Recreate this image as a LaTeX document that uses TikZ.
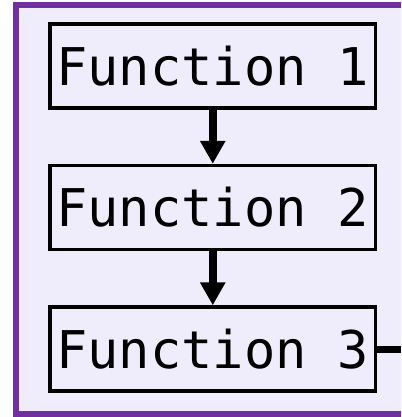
\documentclass[tikz,border=0pt]{standalone}
\usepackage{fontspec}
\setmonofont{DejaVu Sans Mono}
\usetikzlibrary{arrows.meta}
\definecolor{framepurple}{RGB}{112,48,160}
\definecolor{lav}{RGB}{239,237,252}
\tikzset{
  fbox/.style={draw=black, line width=3.3pt, fill=lav, minimum width=325.5pt, minimum height=84pt, inner sep=0pt, font=\ttfamily\fontsize{52}{52}\selectfont},
  flow/.style={line width=7.5pt, -{Triangle[width=24pt,length=23pt]}},
  outl/.style={line width=7pt}
}
\begin{document}
\begin{tikzpicture}[x=1pt,y=-1pt]
\useasboundingbox (0,0) rectangle (401,417);
\fill[white] (0,0) rectangle (401,417);
\begin{scope}
\clip (0,0) rectangle (401,417);
\draw[framepurple, fill=lav, line width=6pt] (16.3,5.5) rectangle (420,414);
\end{scope}
\node[fbox] (f1) at (212.75,65.9) {Function 1};
\node[fbox] (f2) at (212.75,207.5) {Function 2};
\node[fbox] (f3) at (212.75,349) {Function 3};
\coordinate (out) at (401,349);
\draw[flow] (f1.south) -- (f2.north);
\draw[flow] (f2.south) -- (f3.north);
\draw[outl] (f3.east) -- (out);
\end{tikzpicture}
\end{document}
